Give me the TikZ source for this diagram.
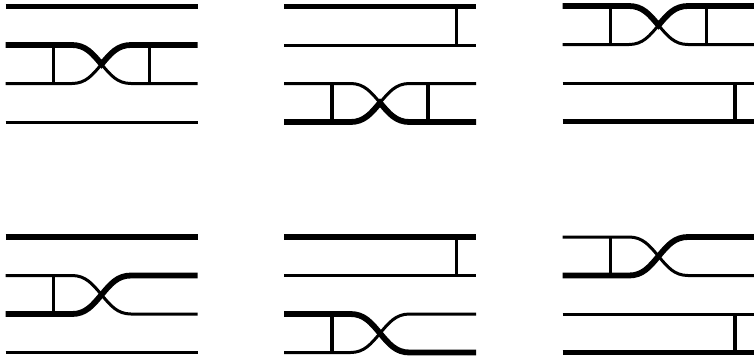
\documentclass[tikz,border=0pt]{standalone}
\tikzset{
  thickwire/.style={line width=5.8pt,color=black},
  thinwire/.style={line width=3pt,color=black},
  rungline/.style={line width=3.2pt,color=black},
}

\begin{document}
\begin{tikzpicture}[x=1pt,y=-1pt]
  \useasboundingbox (0,0) rectangle (754,360);

  % wire points of each panel
  \foreach \pn/\xo/\yo in {p/5.5/6.5,q/284/6.5,u/562.5/6,v/5.5/237,w/284/237,z/562.5/237} {
    \foreach \rw/\dy in {a/0,b/38.5,c/77,d/115.5} {
      \foreach \pt/\dx in {l/0,m/48,s/66.5,n/144,e/125.5,o/172.5,r/192} {
        \coordinate (\pn\rw\pt) at ({\xo+\dx},{\yo+\dy});
      }
    }
    \coordinate (\pn ab) at ({\xo+96},{\yo+19.25});
    \coordinate (\pn cd) at ({\xo+96},{\yo+96.25});
    \coordinate (\pn bc) at ({\xo+96},{\yo+57.75});
  }

  % top left
  \draw[thickwire] (pal) -- (par);
  \draw[thinwire] (pdl) -- (pdr);
  \draw[rungline] (pbm) -- (pcm);
  \draw[rungline] (pbn) -- (pcn);
  \draw[thinwire] (pcl) -- (pcs) to[out=0,in=-130] (pbc) to[out=-50,in=180] (pce) -- (pcr);
  \draw[thickwire] (pbl) -- (pbs) to[out=0,in=130] (pbc) to[out=50,in=180] (pbe) -- (pbr);

  % top middle
  \draw[thickwire] (qal) -- (qar);
  \draw[thinwire] (qbl) -- (qbr);
  \draw[rungline] (qao) -- (qbo);
  \draw[rungline] (qcm) -- (qdm);
  \draw[rungline] (qcn) -- (qdn);
  \draw[thinwire] (qcl) -- (qcs) to[out=0,in=130] (qcd) to[out=50,in=180] (qce) -- (qcr);
  \draw[thickwire] (qdl) -- (qds) to[out=0,in=-130] (qcd) to[out=-50,in=180] (qde) -- (qdr);

  % top right
  \draw[thinwire] (ucl) -- (ucr);
  \draw[thickwire] (udl) -- (udr);
  \draw[rungline] (uco) -- (udo);
  \draw[rungline] (uam) -- (ubm);
  \draw[rungline] (uan) -- (ubn);
  \draw[thinwire] (ubl) -- (ubs) to[out=0,in=-130] (uab) to[out=-50,in=180] (ube) -- (ubr);
  \draw[thickwire] (ual) -- (uas) to[out=0,in=130] (uab) to[out=50,in=180] (uae) -- (uar);

  % bottom left
  \draw[thickwire] (val) -- (var);
  \draw[thinwire] (vdl) -- (vdr);
  \draw[rungline] (vbm) -- (vcm);
  \draw[thinwire] (vbl) -- (vbs) to[out=0,in=130] (vbc) to[out=-50,in=180] (vce) -- (vcr);
  \draw[thickwire] (vcl) -- (vcs) to[out=0,in=-130] (vbc) to[out=50,in=180] (vbe) -- (vbr);

  % bottom middle
  \draw[thickwire] (wal) -- (war);
  \draw[thinwire] (wbl) -- (wbr);
  \draw[rungline] (wao) -- (wbo);
  \draw[rungline] (wcm) -- (wdm);
  \draw[thinwire] (wdl) -- (wds) to[out=0,in=-130] (wcd) to[out=50,in=180] (wce) -- (wcr);
  \draw[thickwire] (wcl) -- (wcs) to[out=0,in=130] (wcd) to[out=-50,in=180] (wde) -- (wdr);

  % bottom right
  \draw[thinwire] (zcl) -- (zcr);
  \draw[thickwire] (zdl) -- (zdr);
  \draw[rungline] (zco) -- (zdo);
  \draw[rungline] (zam) -- (zbm);
  \draw[thinwire] (zal) -- (zas) to[out=0,in=130] (zab) to[out=-50,in=180] (zbe) -- (zbr);
  \draw[thickwire] (zbl) -- (zbs) to[out=0,in=-130] (zab) to[out=50,in=180] (zae) -- (zar);
\end{tikzpicture}
\end{document}
